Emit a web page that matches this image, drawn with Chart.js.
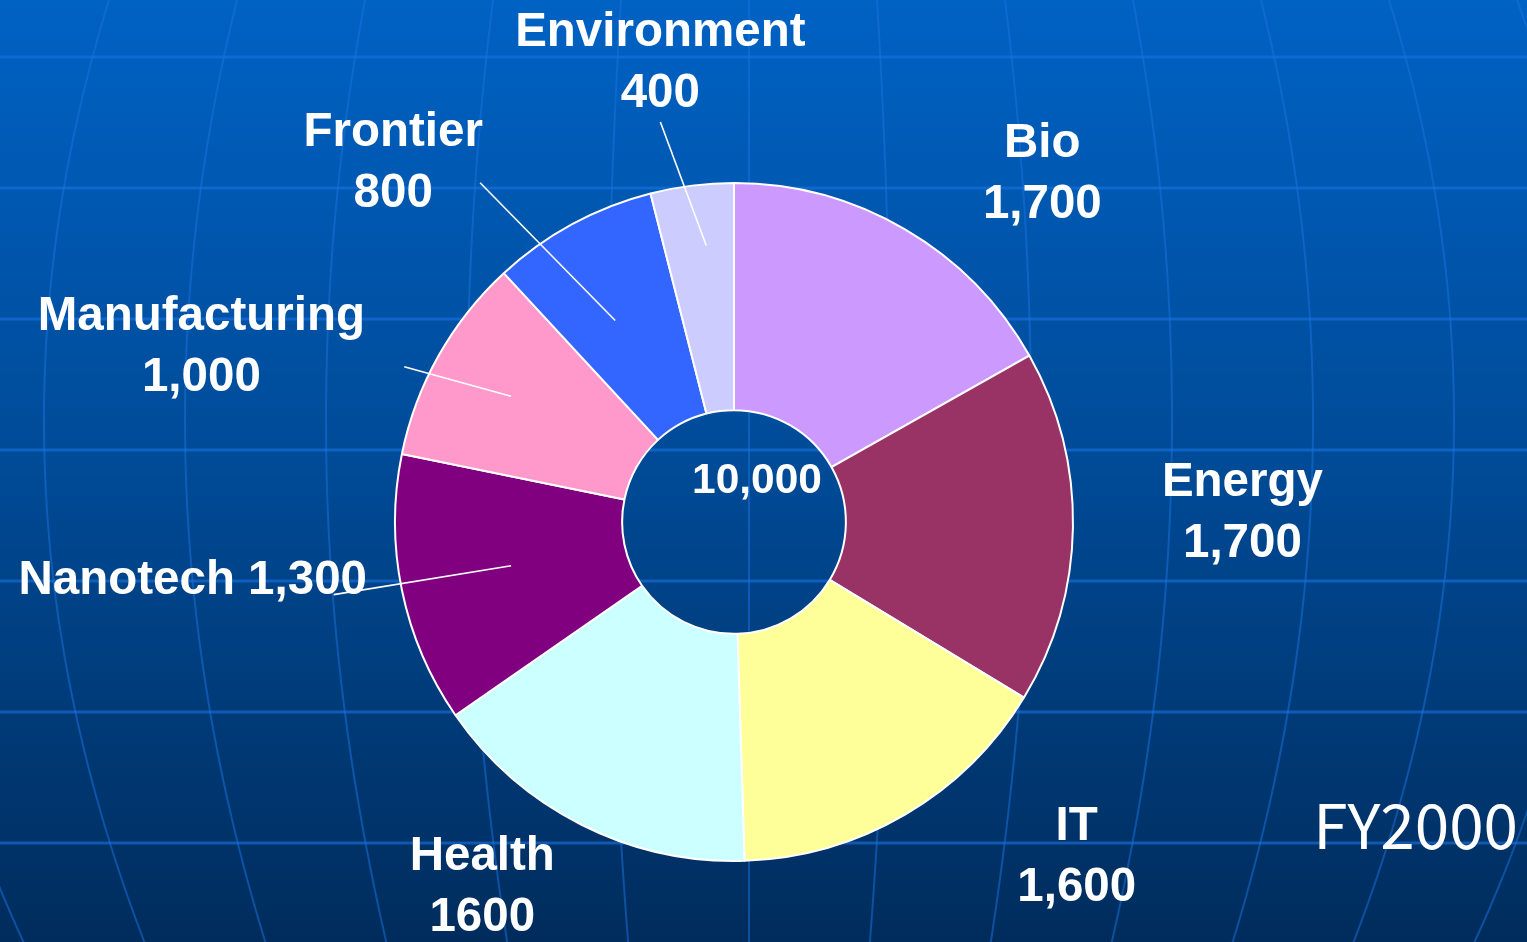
<!DOCTYPE html>
<html>
<head>
<meta charset="utf-8">
<title>FY2000</title>
<script src="https://cdn.jsdelivr.net/npm/chart.js@4"></script>
<style>
  html, body { margin: 0; padding: 0; overflow: hidden; background: #003a78; }
  #wrap { width: 1527px; height: 942px; position: relative; }
</style>
</head>
<body>
<div id="wrap"><canvas id="fundingChart"></canvas></div>
<script>
const categories = ['Bio', 'Energy', 'IT', 'Health', 'Nanotech', 'Manufacturing', 'Frontier', 'Environment'];
const amounts = [1700, 1700, 1600, 1600, 1300, 1000, 800, 400];
const amountLabels = ['1,700', '1,700', '1,600', '1600', '1,300', '1,000', '800', '400'];
const totalLabel = '10,000';
const yearLabel = 'FY2000';
const sliceColors = ['#cc99ff', '#993366', '#ffff99', '#ccffff', '#800080', '#ff99cc', '#3366ff', '#ccccff'];

// where each label sits, around its slice middle: [angle shift (deg), radius x outerRadius, single line]
const labelPlace = [
  [11.3, 1.37, false],
  [-1.9, 1.50, false],
  [-15.3, 1.415, false],
  [7.8, 1.31, false],
  [5.4, 1.606, true],
  [-11.3, 1.653, false],
  [-15, 1.46, false],
  [-2.0, 1.37, false]
];
// leader lines: [inner shift, inner radius, outer shift, outer radius]
const leaders = [null, null, null, null,
  [0.5, 0.67, 1.3, 1.2],
  [0, 0.755, -4.2, 1.075],
  [-2, 0.69, -8.3, 1.25],
  [1.4, 0.82, -3.3, 1.2]
];

// blue globe backdrop
const backdrop = {
  id: 'backdrop',
  beforeDraw(chart) {
    const {ctx, width, height} = chart;
    ctx.save();
    const g = ctx.createLinearGradient(0, 0, 0, height);
    g.addColorStop(0, '#0062c4');
    g.addColorStop(0.5, '#004a96');
    g.addColorStop(1, '#002c5c');
    ctx.fillStyle = g;
    ctx.fillRect(0, 0, width, height);

    ctx.strokeStyle = 'rgba(25,115,225,0.6)';
    ctx.lineWidth = 3;
    for (let y = 57; y < height; y += 131) {
      ctx.beginPath();
      ctx.moveTo(0, y);
      ctx.lineTo(width, y);
      ctx.stroke();
    }
    ctx.strokeStyle = 'rgba(25,115,225,0.5)';
    ctx.lineWidth = 2;
    for (let i = -7; i <= 7; i++) {
      ctx.beginPath();
      for (let y = 0; y <= height; y += 6) {
        const w = 141 - 7.37e-5 * (y - 420) * (y - 420);
        const x = 749 + i * w;
        if (y === 0) ctx.moveTo(x, y); else ctx.lineTo(x, y);
      }
      ctx.stroke();
    }
    ctx.restore();
  }
};

const sliceText = {
  id: 'sliceText',
  afterDatasetsDraw(chart) {
    const ctx = chart.ctx;
    const arcs = chart.getDatasetMeta(0).data;
    ctx.save();
    ctx.fillStyle = '#ffffff';
    ctx.strokeStyle = '#ffffff';
    ctx.lineWidth = 1.6;
    ctx.textAlign = 'center';
    ctx.textBaseline = 'middle';
    arcs.forEach((arc, i) => {
      const p = arc.getProps(['x', 'y', 'startAngle', 'endAngle', 'outerRadius'], true);
      const mid = (p.startAngle + p.endAngle) / 2;
      const at = (shift, r) => {
        const a = mid + shift * Math.PI / 180;
        return [p.x + Math.cos(a) * r * p.outerRadius, p.y + Math.sin(a) * r * p.outerRadius];
      };
      const ld = leaders[i];
      if (ld) {
        const a = at(ld[0], ld[1]);
        const b = at(ld[2], ld[3]);
        ctx.beginPath();
        ctx.moveTo(a[0], a[1]);
        ctx.lineTo(b[0], b[1]);
        ctx.stroke();
      }
      const [sh, rr, oneLine] = labelPlace[i];
      const [lx, ly] = at(sh, rr);
      ctx.font = 'bold 47.5px "Liberation Sans", Arial, sans-serif';
      if (oneLine) {
        ctx.fillText(categories[i] + ' ' + amountLabels[i], lx, ly);
      } else {
        ctx.fillText(categories[i], lx, ly - 30.5);
        ctx.fillText(amountLabels[i], lx, ly + 30.5);
      }
    });

    const c = arcs[0];
    ctx.font = 'bold 42.5px "Liberation Sans", Arial, sans-serif';
    ctx.fillText(totalLabel, c.x + 23, c.y - 41);

    ctx.font = '62px "Noto Sans CJK JP", "Noto Sans", sans-serif';
    ctx.textAlign = 'right';
    ctx.textBaseline = 'alphabetic';
    ctx.fillText(yearLabel, chart.width - 9, 849);
    ctx.restore();
  }
};

new Chart(document.getElementById('fundingChart'), {
  type: 'doughnut',
  data: {
    labels: categories,
    datasets: [{
      data: amounts,
      backgroundColor: sliceColors,
      borderColor: '#ffffff',
      borderWidth: 2
    }]
  },
  options: {
    responsive: true,
    maintainAspectRatio: false,
    animation: false,
    events: [],
    cutout: '33%',
    layout: { padding: { left: 394, right: 453, top: 182, bottom: 80 } },
    plugins: {
      legend: { display: false },
      tooltip: { enabled: false }
    }
  },
  plugins: [backdrop, sliceText]
});
</script>
</body>
</html>
